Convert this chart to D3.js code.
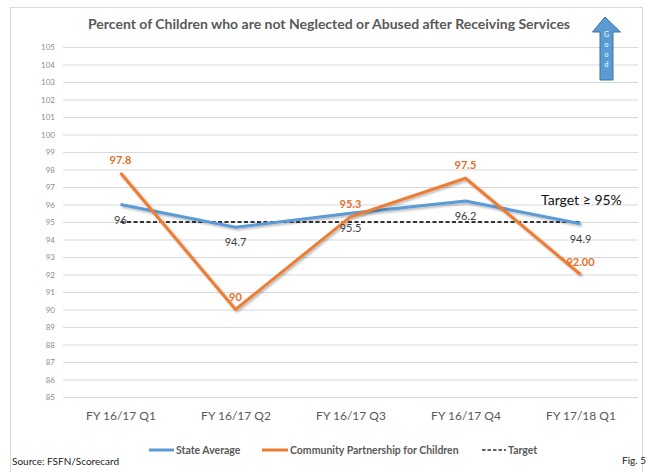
<!DOCTYPE html>
<html>
<head>
<meta charset="utf-8">
<script src="https://cdn.jsdelivr.net/npm/d3@7"></script>
<style>
  body { margin: 0; background: #fff; }
  svg { display: block; font-family: Lato, "Noto Sans", sans-serif; }
</style>
</head>
<body>
<div id="chart"></div>
<script>
var categories = ["FY 16/17 Q1", "FY 16/17 Q2", "FY 16/17 Q3", "FY 16/17 Q4", "FY 17/18 Q1"];
var stateAverage = [96, 94.7, 95.5, 96.2, 94.9];
var stateLabels = ["96", "94.7", "95.5", "96.2", "94.9"];
var community = [97.8, 90, 95.3, 97.5, 92.0];
var communityLabels = ["97.8", "90", "95.3", "97.5", "92.00"];
var target = [95, 95, 95, 95, 95];
var yTicks = d3.range(85, 106, 1);

var W = 647, H = 472;
var margin = { top: 47, right: 9, bottom: 75, left: 63 };
var width = W - margin.left - margin.right;
var height = H - margin.top - margin.bottom;

var blue = "#5B9BD5", orange = "#ED7D31";

var svg = d3.select("#chart")
  .append("svg")
  .attr("width", W)
  .attr("height", H);

// drop shadow like the office chart lines
var defs = svg.append("defs");
var f = defs.append("filter").attr("id", "shadow")
  .attr("x", "-10%").attr("y", "-10%").attr("width", "130%").attr("height", "130%");
f.append("feDropShadow")
  .attr("dx", 1.5).attr("dy", 1.5).attr("stdDeviation", 1)
  .attr("flood-color", "#000").attr("flood-opacity", 0.3);

// outer frame
svg.append("rect")
  .attr("x", 10.5).attr("y", 7.5)
  .attr("width", 632).attr("height", 470)
  .attr("fill", "none")
  .attr("stroke", "#d9d9d9");

svg.append("text")
  .attr("x", 329).attr("y", 29)
  .attr("text-anchor", "middle")
  .attr("font-size", 14)
  .attr("font-weight", "bold")
  .attr("fill", "#595959")
  .text("Percent of Children who are not Neglected or Abused after Receiving Services");

var g = svg.append("g")
  .attr("transform", "translate(" + margin.left + "," + margin.top + ")");

var x = d3.scalePoint().domain(categories).range([0, width]).padding(0.5);
var y = d3.scaleLinear().domain([85, 105]).range([height, 0]);

// grid + y axis
var yAxis = g.append("g")
  .attr("class", "y axis")
  .call(d3.axisLeft(y).tickValues(yTicks).tickSize(-width).tickPadding(8).tickFormat(d3.format("d")));
yAxis.select(".domain").remove();
yAxis.selectAll(".tick line").attr("stroke", "#d9d9d9").attr("stroke-width", 1);
yAxis.selectAll(".tick text")
  .attr("fill", "#8c8c8c")
  .attr("font-size", 8)
  .attr("font-family", "Lato, sans-serif");

var xAxis = g.append("g")
  .attr("class", "x axis")
  .attr("transform", "translate(0," + height + ")")
  .call(d3.axisBottom(x).tickSize(0).tickPadding(14));
xAxis.select(".domain").remove();
xAxis.selectAll(".tick text")
  .attr("fill", "#595959")
  .attr("font-size", 12)
  .attr("font-family", "Lato, sans-serif");

var line = d3.line()
  .x((d, i) => x(categories[i]))
  .y((d) => y(d));

g.append("path")
  .datum(target)
  .attr("fill", "none")
  .attr("stroke", "#333")
  .attr("stroke-width", 2)
  .attr("stroke-dasharray", "4,2.5")
  .attr("d", line);

g.append("path")
  .datum(stateAverage)
  .attr("fill", "none")
  .attr("stroke", blue)
  .attr("stroke-width", 3)
  .attr("filter", "url(#shadow)")
  .attr("d", line);

g.append("path")
  .datum(community)
  .attr("fill", "none")
  .attr("stroke", orange)
  .attr("stroke-width", 3)
  .attr("filter", "url(#shadow)")
  .attr("d", line);

// data labels
g.selectAll(".state-label")
  .data(stateAverage)
  .enter().append("text")
  .attr("class", "state-label")
  .attr("x", (d, i) => x(categories[i]))
  .attr("y", (d) => y(d) + 19)
  .attr("text-anchor", "middle")
  .attr("font-size", 11)
  .attr("fill", "#404040")
  .text((d, i) => stateLabels[i]);

g.selectAll(".comm-label")
  .data(community)
  .enter().append("text")
  .attr("class", "comm-label")
  .attr("x", (d, i) => x(categories[i]))
  .attr("y", (d) => y(d) - 9)
  .attr("text-anchor", "middle")
  .attr("font-size", 11)
  .attr("font-weight", "bold")
  .attr("fill", "#E2702C")
  .text((d, i) => communityLabels[i]);

svg.append("text")
  .attr("x", 541).attr("y", 205)
  .attr("font-size", 14)
  .attr("fill", "#111")
  .text("Target \u2265 95%");

// "Good" arrow
var arrow = svg.append("g");
arrow.append("path")
  .attr("d", "M605,17 L620.5,32 L613,32 L613,80 L600,80 L600,32 L592.5,32 Z")
  .attr("fill", blue)
  .attr("stroke", "#41719C")
  .attr("stroke-width", 1);
["G", "o", "o", "d"].forEach(function (c, i) {
  arrow.append("text")
    .attr("x", 606.5).attr("y", 37 + i * 10)
    .attr("text-anchor", "middle")
    .attr("font-size", 7)
    .attr("fill", "#fff")
    .text(c);
});

// legend
var legend = [
  { name: "State Average", color: blue, x: 149, dash: null, w: 25 },
  { name: "Community Partnership for Children", color: orange, x: 262, dash: null, w: 26 },
  { name: "Target", color: "#333", x: 482, dash: "3.5,2", w: 24 }
];
var lg = svg.selectAll(".legend")
  .data(legend)
  .enter().append("g")
  .attr("class", "legend")
  .attr("transform", (d) => "translate(" + d.x + ",450)");
lg.append("line")
  .attr("x1", 0).attr("x2", (d) => d.w)
  .attr("y1", 0).attr("y2", 0)
  .attr("stroke", (d) => d.color)
  .attr("stroke-width", (d) => d.dash ? 1.5 : 3)
  .attr("stroke-dasharray", (d) => d.dash);
lg.append("text")
  .attr("x", (d) => d.w + 2)
  .attr("y", 4)
  .attr("font-size", 10.5)
  .attr("font-weight", "bold")
  .attr("fill", "#595959")
  .text((d) => d.name);

svg.append("text")
  .attr("x", 12).attr("y", 465)
  .attr("font-size", 10)
  .attr("fill", "#222")
  .text("Source: FSFN/Scorecard");

svg.append("text")
  .attr("x", 622).attr("y", 464)
  .attr("font-size", 10)
  .attr("fill", "#222")
  .text("Fig. 5");
</script>
</body>
</html>
